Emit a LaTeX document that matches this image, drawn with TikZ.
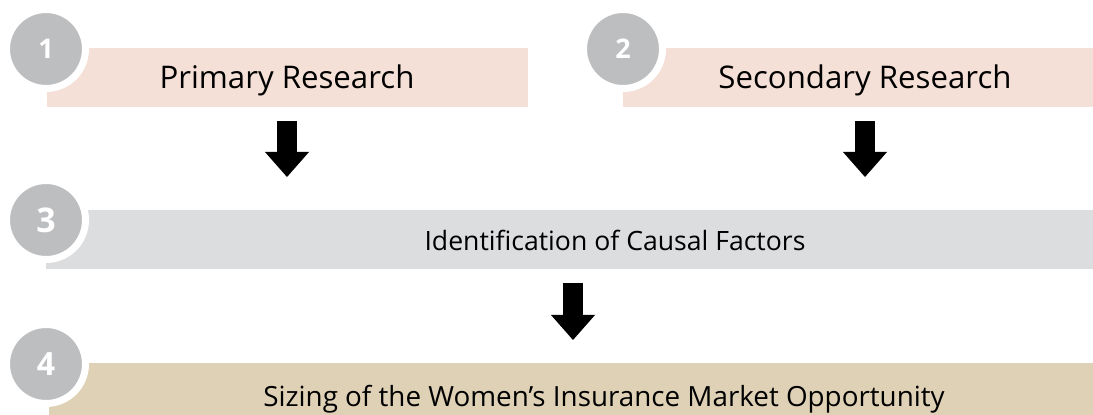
\documentclass[tikz,border=0pt]{standalone}
\usepackage{fontspec}
\setmainfont{Open Sans}
\usetikzlibrary{arrows.meta,positioning,calc}
\definecolor{pinkbox}{HTML}{F4E0D6}
\definecolor{greybox}{HTML}{DCDDDF}
\definecolor{sandbox}{HTML}{DFD1B5}
\definecolor{numgrey}{HTML}{BDBEC0}

\begin{document}
\begin{tikzpicture}[x=1pt,y=1pt,
  box/.style={fill=#1,minimum height=59pt,inner sep=0pt,anchor=west},
  txt/.style={font=\fontsize{#1}{#1}\selectfont,text=black,anchor=base},
  num/.style={circle,fill=numgrey,draw=white,line width=7pt,minimum size=79pt,inner sep=0pt,text=white,font=\bfseries\fontsize{#1}{#1}\selectfont},
  blk/.style={line width=20pt,-{Triangle[width=44pt,length=25pt,line width=0pt]}}]
\useasboundingbox (0,0) rectangle (1093,415);
% boxes
\node[box=pinkbox,minimum width=481pt] (b1) at (47,337.5) {};
\node[box=pinkbox,minimum width=470pt] (b2) at (623,337.5) {};
\node[box=greybox,minimum width=1047pt] (b3) at (46,175.5) {};
\node[box=sandbox,minimum width=1044pt,minimum height=52pt] (b4) at (49,26) {};
% step numbers
\node[num=27] (n1) at (46,366) {1};
\node[num=27] (n2) at (623,366) {2};
\node[num=34] (n3) at (46,195) {3};
\node[num=32] (n4) at (46,51) {4};
% labels
\node[txt=31.2] (t1) at (287,326) {Primary Research};
\node[txt=31.2] (t2) at (865,326) {Secondary Research};
\node[txt=26.6] (t3) at (615,164) {Identification of Causal Factors};
\node[txt=27.8] (t4) at (604,8) {Sizing of the Women’s Insurance Market Opportunity};
% arrows
\coordinate (a1s) at (287,294);
\coordinate (a1e) at (287,238);
\coordinate (a2s) at (865,294);
\coordinate (a2e) at (865,238);
\coordinate (a3s) at (573,132);
\coordinate (a3e) at (573,75);
\draw[blk] (a1s) -- (a1e);
\draw[blk] (a2s) -- (a2e);
\draw[blk] (a3s) -- (a3e);
\end{tikzpicture}
\end{document}
